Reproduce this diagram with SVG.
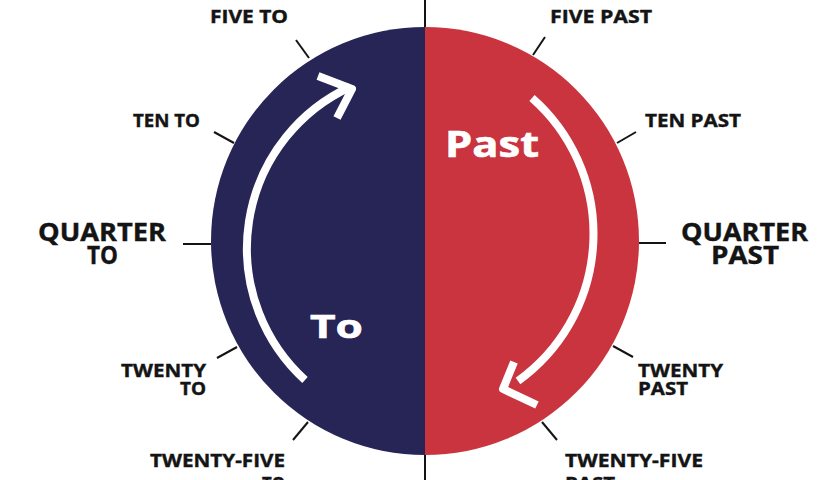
<svg xmlns="http://www.w3.org/2000/svg" width="840" height="480" viewBox="0 0 840 480">
  <style>
    .lbl { font-family: "Open Sans", "Liberation Sans", sans-serif; font-weight: 700; fill: #141414; stroke: #141414; stroke-width: 0.4; }
    .sm { font-size: 18px; }
    .lg { font-size: 25px; }
    .big { font-family: "Open Sans", "Liberation Sans", sans-serif; font-weight: 700; fill: #ffffff; stroke: #ffffff; stroke-width: 0.6; }
    .tick { stroke: #141414; stroke-width: 2; fill: none; }
    .arc { stroke: #ffffff; stroke-width: 8; fill: none; stroke-linejoin: round; }
  </style>
  <rect width="840" height="480" fill="#ffffff"/>
  <g id="axis">
    <line class="tick" x1="425" y1="0" x2="425" y2="480"/>
  </g>
  <g id="to-half">
    <path d="M425,27 A214,214 0 0 0 425,455 Z" fill="#272556"/>
    <text class="big" x="310" y="338" font-size="33" textLength="53" lengthAdjust="spacingAndGlyphs">To</text>
  </g>
  <g id="past-half">
    <path d="M425,27 A214,214 0 0 1 425,455 Z" fill="#CA343F"/>
    <text class="big" x="445" y="157" font-size="35" textLength="94" lengthAdjust="spacingAndGlyphs">Past</text>
  </g>
  <g id="connectors">
    <line class="tick" x1="296" y1="40" x2="309" y2="58"/>
    <line class="tick" x1="214" y1="132" x2="234" y2="143"/>
    <line class="tick" x1="183" y1="244" x2="211" y2="244"/>
    <line class="tick" x1="217" y1="358" x2="237" y2="347"/>
    <line class="tick" x1="293" y1="440" x2="308" y2="422"/>
    <line class="tick" x1="533" y1="55" x2="545" y2="37"/>
    <line class="tick" x1="617" y1="143" x2="636" y2="132"/>
    <line class="tick" x1="639" y1="243" x2="666" y2="243"/>
    <line class="tick" x1="613" y1="346" x2="633" y2="357"/>
    <line class="tick" x1="542" y1="422" x2="557" y2="440"/>
    <path class="arc" d="M305,380 A178,178 0 0 1 350,87"/>
    <polyline class="arc" points="318,76 352,89 337,118"/>
    <path class="arc" d="M532,98 A181,181 0 0 1 518,381"/>
    <polyline class="arc" points="514,362 503,389 537,405"/>
  </g>
  <g id="five-to"><text class="lbl sm" x="210" y="23" textLength="78" lengthAdjust="spacingAndGlyphs">FIVE TO</text></g>
  <g id="five-past"><text class="lbl sm" x="550" y="23" textLength="102" lengthAdjust="spacingAndGlyphs">FIVE PAST</text></g>
  <g id="ten-to"><text class="lbl sm" x="133" y="127" textLength="67" lengthAdjust="spacingAndGlyphs">TEN TO</text></g>
  <g id="ten-past"><text class="lbl sm" x="645" y="127" textLength="96" lengthAdjust="spacingAndGlyphs">TEN PAST</text></g>
  <g id="quarter-to">
    <text class="lbl lg" x="38" y="241" textLength="128" lengthAdjust="spacingAndGlyphs">QUARTER</text>
    <text class="lbl lg" x="87" y="264" textLength="31" lengthAdjust="spacingAndGlyphs">TO</text>
  </g>
  <g id="quarter-past">
    <text class="lbl lg" x="681" y="241" textLength="127" lengthAdjust="spacingAndGlyphs">QUARTER</text>
    <text class="lbl lg" x="711" y="264" textLength="68" lengthAdjust="spacingAndGlyphs">PAST</text>
  </g>
  <g id="twenty-to">
    <text class="lbl sm" x="121" y="377" textLength="85" lengthAdjust="spacingAndGlyphs">TWENTY</text>
    <text class="lbl sm" x="180" y="395" textLength="26" lengthAdjust="spacingAndGlyphs">TO</text>
  </g>
  <g id="twenty-past">
    <text class="lbl sm" x="638" y="377" textLength="85" lengthAdjust="spacingAndGlyphs">TWENTY</text>
    <text class="lbl sm" x="638" y="395" textLength="50" lengthAdjust="spacingAndGlyphs">PAST</text>
  </g>
  <g id="twenty-five-to">
    <text class="lbl sm" x="150" y="467" textLength="135" lengthAdjust="spacingAndGlyphs">TWENTY-FIVE</text>
    <text class="lbl sm" x="262" y="490" textLength="23" lengthAdjust="spacingAndGlyphs">TO</text>
  </g>
  <g id="twenty-five-past">
    <text class="lbl sm" x="565" y="467" textLength="138" lengthAdjust="spacingAndGlyphs">TWENTY-FIVE</text>
    <text class="lbl sm" x="565" y="490" textLength="50" lengthAdjust="spacingAndGlyphs">PAST</text>
  </g>
</svg>
